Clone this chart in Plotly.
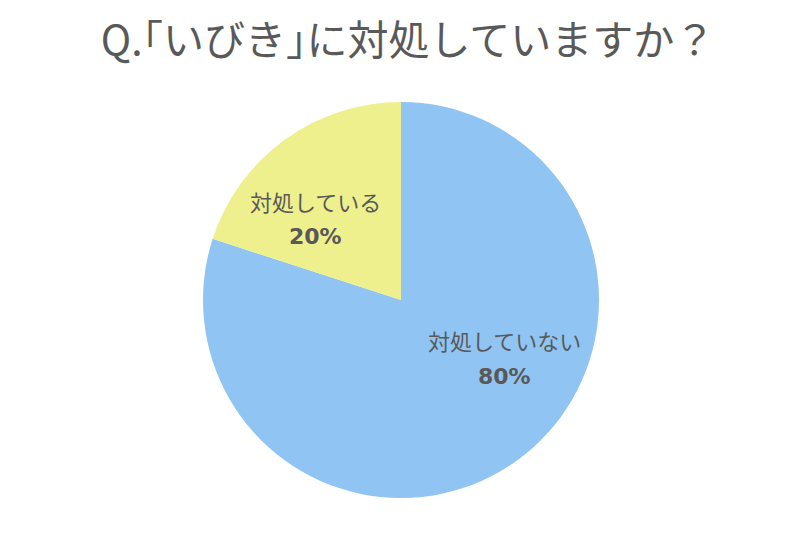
import plotly.graph_objects as go

labels = ["対処していない", "対処している"]
values = [80, 20]
colors = ["#90C4F2", "#EEF08E"]

font_family = "Noto Sans CJK JP"
text_color = "#595959"

fig = go.Figure(go.Pie(
    labels=labels,
    values=values,
    sort=False,
    direction="clockwise",
    rotation=0,
    marker=dict(colors=colors, line=dict(width=0)),
    textinfo="none",
    hoverinfo="label+percent",
    showlegend=False,
    domain=dict(x=[195 / 800, 591 / 800], y=[1 - 490 / 542, 1 - 94 / 542]),
))

# data labels, placed like the original (name on top, bold percent below)
label_pos = [(496, 332, 368), (307, 193, 228)]
for lab, val, (px, py1, py2) in zip(labels, values, label_pos):
    fig.add_annotation(
        x=px / 800, y=1 - py1 / 542, xref="paper", yref="paper",
        text=lab, showarrow=False, xanchor="center", yanchor="middle",
        font=dict(family=font_family, size=22, color=text_color),
    )
    fig.add_annotation(
        x=px / 800, y=1 - py2 / 542, xref="paper", yref="paper",
        text=f"<b>{val}%</b>", showarrow=False, xanchor="center", yanchor="middle",
        font=dict(family="DejaVu Sans", size=22, color=text_color),
    )

fig.update_layout(
    width=800,
    height=542,
    margin=dict(l=0, r=0, t=0, b=0),
    paper_bgcolor="white",
    plot_bgcolor="white",
    title=dict(
        text="Q.｢いびき｣に対処していますか？",
        x=0.5,
        xanchor="center",
        y=1 - 33 / 542,
        yanchor="middle",
        font=dict(family=font_family, size=41, color=text_color),
    ),
)

fig.write_html("out.html")
